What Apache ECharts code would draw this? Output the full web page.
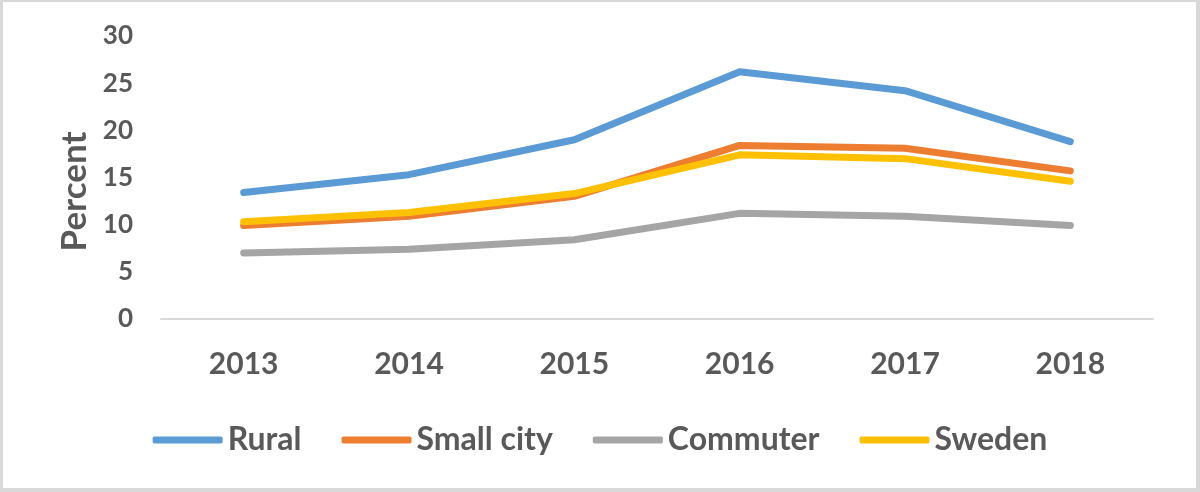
<!DOCTYPE html>
<html>
<head>
<meta charset="utf-8">
<script src="https://cdn.jsdelivr.net/npm/echarts@6/dist/echarts.min.js"></script>
<style>
  html, body { margin: 0; padding: 0; background: #fff; }
  #wrap { position: relative; width: 1200px; height: 492px; }
  #main { width: 1200px; height: 492px; }
  #frame {
    position: absolute; left: 0; top: 0; right: 0; bottom: 0;
    border-style: solid; border-color: #d9d9d9;
    border-width: 2px 4px 4px 3px;
    pointer-events: none;
  }
</style>
</head>
<body>
<div id="wrap">
  <div id="main"></div>
  <div id="frame"></div>
</div>
<script>
var years = ['2013', '2014', '2015', '2016', '2017', '2018'];
var rural = [13.4, 15.3, 19.0, 26.2, 24.2, 18.8];
var smallCity = [9.9, 10.9, 13.0, 18.4, 18.1, 15.7];
var commuter = [7.0, 7.4, 8.4, 11.2, 10.9, 9.9];
var sweden = [10.3, 11.3, 13.3, 17.4, 17.0, 14.6];

var font = 'Lato, "Open Sans", sans-serif';
var grey = '#595959';

var chart = echarts.init(document.getElementById('main'));

function line(name, data, color) {
  return {
    name: name,
    type: 'line',
    data: data,
    symbol: 'none',
    lineStyle: { width: 7, color: color, cap: 'round', join: 'round' },
    itemStyle: { color: color }
  };
}

var option = {
  backgroundColor: '#fff',
  animation: false,
  grid: { left: 161, right: 47, top: 36, bottom: 173 },
  legend: {
    left: 'center',
    top: 419,
    itemWidth: 70,
    itemHeight: 7,
    itemGap: 40,
    icon: 'roundRect',
    textStyle: { fontFamily: font, fontWeight: 'bold', fontSize: 32, color: grey },
    data: ['Rural', 'Small city', 'Commuter', 'Sweden']
  },
  xAxis: {
    type: 'category',
    data: years,
    boundaryGap: true,
    axisLine: { lineStyle: { color: '#d9d9d9', width: 2 } },
    axisTick: { show: false },
    axisLabel: { margin: 30, fontFamily: font, fontWeight: 'bold', fontSize: 30, color: grey }
  },
  yAxis: {
    type: 'value',
    min: 0,
    max: 30,
    interval: 5,
    name: 'Percent',
    nameLocation: 'middle',
    nameGap: 62,
    nameTextStyle: { fontFamily: font, fontWeight: 'bold', fontSize: 35, color: grey, padding: [0, 28, 0, 0] },
    axisLine: { show: false },
    axisTick: { show: false },
    splitLine: { show: false },
    axisLabel: { margin: 28, fontFamily: font, fontWeight: 'bold', fontSize: 26, color: grey }
  },
  series: [
    line('Rural', rural, '#5b9bd5'),
    line('Small city', smallCity, '#ed7d31'),
    line('Commuter', commuter, '#a5a5a5'),
    line('Sweden', sweden, '#ffc000')
  ]
};

chart.setOption(option);
</script>
</body>
</html>
